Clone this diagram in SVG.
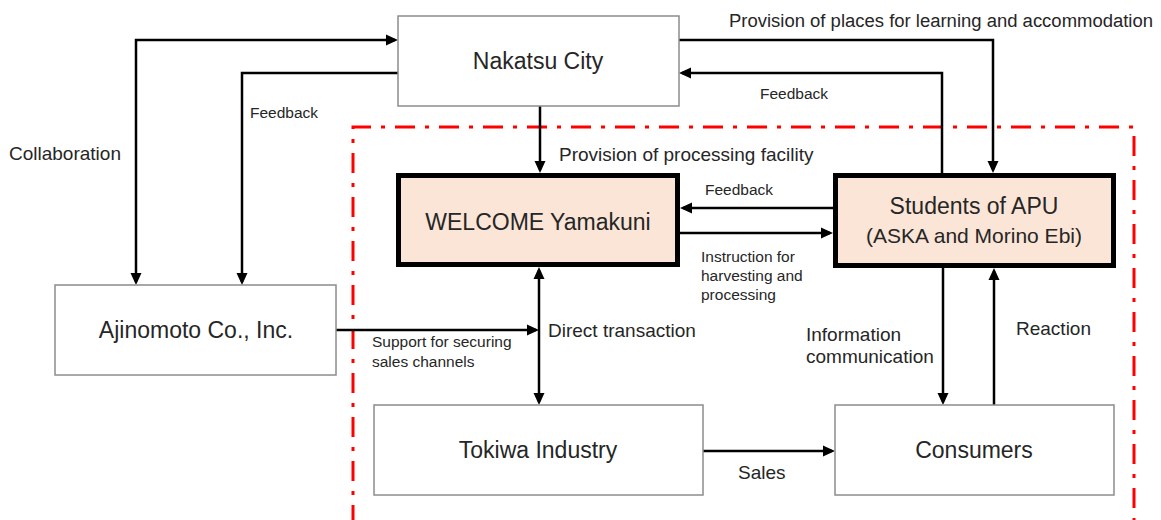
<svg xmlns="http://www.w3.org/2000/svg" width="1161" height="520" viewBox="0 0 1161 520">
<style>
text{font-family:"Liberation Sans",Arial,sans-serif;fill:#262626}
.n{font-size:23px;text-anchor:middle}
.m{font-size:19px}
.s{font-size:15.5px}
.box{fill:#fff;stroke:#8c8c8c;stroke-width:1.5}
.hb{fill:#fbe5d6;stroke:#000;stroke-width:5}
.c{fill:none;stroke:#000;stroke-width:2.5}
.a{marker-end:url(#ah)}
.b{marker-start:url(#ah);marker-end:url(#ah)}
.red{fill:none;stroke:#ff0000;stroke-width:3;stroke-dasharray:20 10 4 10}
</style>
<defs>
<marker id="ah" markerUnits="userSpaceOnUse" markerWidth="12" markerHeight="12" refX="9" refY="5.5" orient="auto-start-reverse" viewBox="0 0 12 11">
<path d="M0,0 L12,5.5 L0,11 z" fill="#000"/>
</marker>
</defs>
<rect width="1161" height="520" fill="#fff"/>
<path class="red" d="M353,525 V127 H1134 V525"/>
<g id="connectors">
<path class="c b" d="M136,282 V40 H395"/>
<path class="c a" d="M398,73 H242 V282"/>
<path class="c a" d="M540,106 V170"/>
<path class="c a" d="M679,40 H993 V170"/>
<path class="c a" d="M942,173 V73 H682"/>
<path class="c a" d="M833,208 H683"/>
<path class="c a" d="M680,233 H830"/>
<path class="c a" d="M336,330 H536"/>
<path class="c b" d="M539,270 V402"/>
<path class="c a" d="M703,451 H832"/>
<path class="c a" d="M943,268 V402"/>
<path class="c a" d="M994,405 V271"/>
</g>
<g id="labels">
<text x="729" y="27" style="font-size:18px" textLength="424" lengthAdjust="spacingAndGlyphs">Provision of places for learning and accommodation</text>
<text class="s" x="760" y="99">Feedback</text>
<text class="s" x="250" y="118">Feedback</text>
<text class="m" x="9" y="160">Collaboration</text>
<text class="m" x="559" y="161">Provision of processing facility</text>
<text class="s" x="705" y="195">Feedback</text>
<text class="s" x="701" y="262">Instruction for</text>
<text class="s" x="701" y="281">harvesting and</text>
<text class="s" x="701" y="300">processing</text>
<text class="s" x="372" y="347">Support for securing</text>
<text class="s" x="372" y="367">sales channels</text>
<text class="m" x="548" y="337">Direct transaction</text>
<text class="m" x="806" y="341">Information</text>
<text class="m" x="806" y="363">communication</text>
<text class="m" x="1016" y="335">Reaction</text>
<text class="m" x="738" y="479">Sales</text>
</g>
<g id="nakatsu"><rect class="box" x="398" y="16" width="281" height="90"/><text class="n" x="538" y="69">Nakatsu City</text></g>
<g id="welcome"><rect class="hb" x="398.5" y="175.5" width="279" height="89"/><text class="n" x="538" y="230">WELCOME Yamakuni</text></g>
<g id="students"><rect class="hb" x="835.5" y="175.5" width="278" height="90"/><text class="n" x="974" y="214">Students of APU</text><text class="n" x="974" y="243" style="font-size:21px">(ASKA and Morino Ebi)</text></g>
<g id="ajinomoto"><rect class="box" x="55" y="285" width="281" height="90"/><text class="n" x="196" y="338">Ajinomoto Co., Inc.</text></g>
<g id="tokiwa"><rect class="box" x="374" y="405" width="329" height="90"/><text class="n" x="538" y="458">Tokiwa Industry</text></g>
<g id="consumers"><rect class="box" x="835" y="405" width="279" height="90"/><text class="n" x="974" y="458">Consumers</text></g>
</svg>
